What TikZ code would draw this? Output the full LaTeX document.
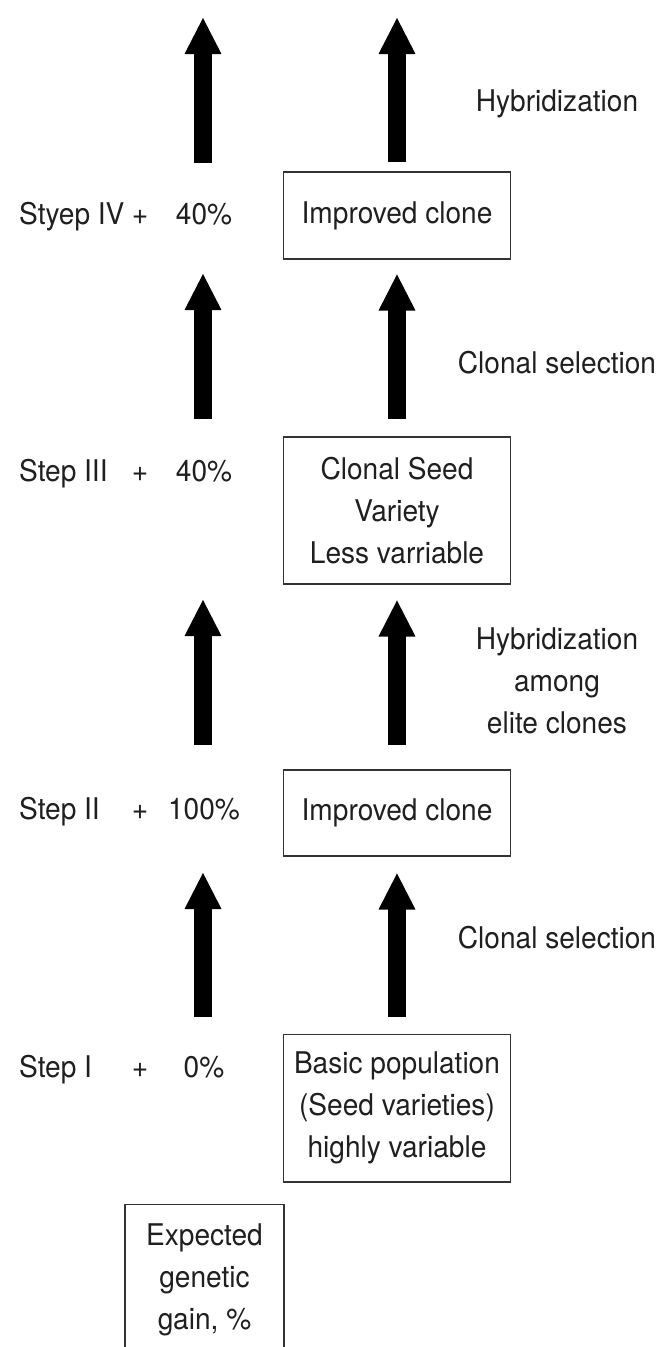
\documentclass[tikz,border=0pt]{standalone}
\usepackage{fontspec}
\setmainfont{TeX Gyre Heros}[FakeStretch=0.94]
\usetikzlibrary{arrows.meta}

\begin{document}
\begin{tikzpicture}[x=0.02cm,y=-0.02cm,
	every node/.style={font=\fontsize{17}{24}\selectfont, text=black!88},
	box/.style={draw=black!80, line width=0.6pt, minimum width=4.54cm, align=center, inner sep=0pt},
	lbl/.style={anchor=base},
	bigarrow/.style={line width=0.36cm, -{Triangle[width=0.68cm,length=0.74cm]}}]
					\useasboundingbox (0,0) rectangle (663,1347);
					% boxes on the right
					\node[box, minimum height=1.74cm] (clonefour) at (397,215.5) {Improved clone};
					\node[box, minimum height=2.94cm] (seedvar) at (397,510.5) {Clonal Seed\\Variety\\Less varriable};
					\node[box, minimum height=1.72cm] (clonetwo) at (397,813) {Improved clone};
					\node[box, minimum height=2.96cm] (basic) at (397,1108) {Basic population\\(Seed varieties)\\highly variable};
					\node[box, minimum width=3.18cm, minimum height=3.04cm] (expected) at (204.5,1280) {Expected\\genetic\\gain, \%};
					% steps and gains
					\node[lbl, anchor=base west] (stepfour) at (13,224) {Styep IV};
					\node[lbl] (plusfour) at (140,224) {+};
					\node[lbl] (gainfour) at (204,224) {40\%};
					\node[lbl, anchor=base west] (stepthree) at (13,481) {Step III};
					\node[lbl] (plusthree) at (140,481) {+};
					\node[lbl] (gainthree) at (204,481) {40\%};
					\node[lbl, anchor=base west] (steptwo) at (13,819) {Step II};
					\node[lbl] (plustwo) at (140,819) {+};
					\node[lbl] (gaintwo) at (204,819) {100\%};
					\node[lbl, anchor=base west] (stepone) at (13,1077) {Step I};
					\node[lbl] (plusone) at (140,1077) {+};
					\node[lbl] (gainone) at (204,1077) {0\%};
					% methods
					\node[lbl] (hybrid) at (557,111) {Hybridization};
					\node[lbl] (clonalsel) at (557,373) {Clonal selection};
					\node[align=center] (hybelite) at (557,681) {Hybridization\\among\\elite clones};
					\node[lbl] (clonalselb) at (557,948) {Clonal selection};
					% arrows
					\coordinate (tipL1) at (203,17);
					\coordinate (tailL1) at (203,163);
					\coordinate (tipL2) at (203,273);
					\coordinate (tailL2) at (203,419);
					\coordinate (tipL3) at (203,599);
					\coordinate (tailL3) at (203,745);
					\coordinate (tipL4) at (203,872);
					\coordinate (tailL4) at (203,1017);
					\coordinate (tipR1) at (397,17);
					\draw[bigarrow] (tailL1) -- (tipL1);
					\draw[bigarrow] (tailL2) -- (tipL2);
					\draw[bigarrow] (tailL3) -- (tipL3);
					\draw[bigarrow] (tailL4) -- (tipL4);
					\draw[bigarrow, shorten <=0.18cm] (clonefour.north) -- (tipR1);
					\draw[bigarrow, shorten <=0.36cm, shorten >=0.28cm] (seedvar.north) -- (clonefour.south);
					\draw[bigarrow, shorten <=0.5cm, shorten >=0.3cm] (clonetwo.north) -- (seedvar.south);
					\draw[bigarrow, shorten <=0.34cm, shorten >=0.32cm] (basic.north) -- (clonetwo.south);
\end{tikzpicture}
\end{document}
